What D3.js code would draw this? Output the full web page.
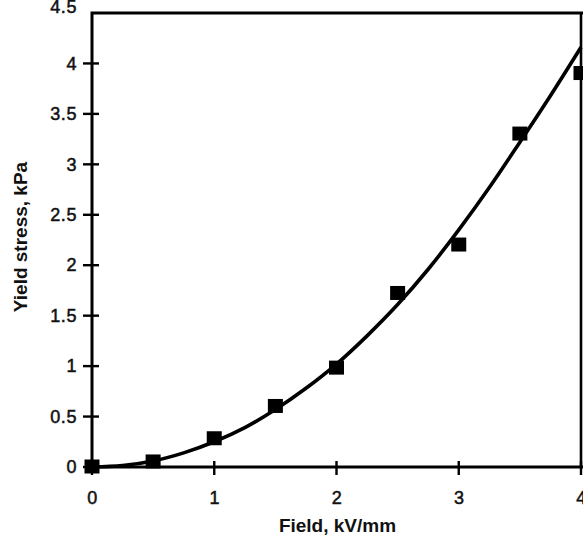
<!DOCTYPE html>
<html><head><meta charset="utf-8">
<script src="https://cdn.jsdelivr.net/npm/d3@7"></script>
<style>body{margin:0;background:#fff}svg{display:block}</style>
</head><body>
<svg id="c" width="583" height="539"></svg>
<script>
const fieldPts = [0, 0.5, 1, 1.5, 2, 2.5, 3, 3.5, 4];
const stressPts = [0, 0.05, 0.28, 0.6, 0.98, 1.72, 2.2, 3.3, 3.9];
const fitField = [0,0.25,0.5,0.75,1,1.25,1.5,1.75,2,2.25,2.5,2.75,3,3.25,3.5,3.75,4];
const fitStress = [0,0.015,0.06,0.14,0.25,0.39,0.57,0.78,1.02,1.3,1.61,1.96,2.35,2.77,3.22,3.68,4.16];
const xTicks = [0,1,2,3,4];
const yTicks = [0,0.5,1,1.5,2,2.5,3,3.5,4,4.5];

const svg = d3.select("#c");
const L = 92, R = 581, T = 13, B = 467;
const x = d3.scaleLinear().domain([0,4]).range([L,R]);
const y = d3.scaleLinear().domain([0,4.5]).range([B,T]);

// frame
svg.append("rect").attr("x",L).attr("y",T).attr("width",R-L+4).attr("height",B-T)
  .attr("fill","none").attr("stroke","#000").attr("stroke-width",3);
svg.append("line").attr("x1",R).attr("x2",R).attr("y1",T).attr("y2",B)
  .attr("stroke","#000").attr("stroke-width",2.6);

// axes
const yAxis = d3.axisLeft(y).tickValues(yTicks).tickFormat(d3.format("~g")).tickSize(0).tickPadding(15);
const gy = svg.append("g").attr("transform",`translate(${L},0)`).call(yAxis);
const xAxis = d3.axisBottom(x).tickValues(xTicks).tickFormat(d3.format("~g")).tickSize(0).tickPadding(24);
const gx = svg.append("g").attr("transform",`translate(0,${B})`).call(xAxis);
[gx, gy].forEach(g=>{
  g.select(".domain").remove();
  g.selectAll("text").attr("font-family","Liberation Sans, Arial, sans-serif")
   .attr("font-size",18).attr("fill","#111").attr("stroke","#111").attr("stroke-width",0.5)
   .style("letter-spacing","0.6px");
});
gy.selectAll(".tick").filter(d=>d===4.5).select("text").attr("dy","-0.05em");

// crossing ticks
svg.append("g").selectAll("line").data(yTicks.filter(d=>d<4.5)).join("line")
  .attr("x1",L-9).attr("x2",L+7).attr("y1",d=>y(d)).attr("y2",d=>y(d))
  .attr("stroke","#000").attr("stroke-width",2.4);
svg.append("g").selectAll("line").data(xTicks).join("line")
  .attr("x1",d=>x(d)).attr("x2",d=>x(d)).attr("y1",B-6).attr("y2",B+8)
  .attr("stroke","#000").attr("stroke-width",2.4);

// fit curve
const fit = fitField.map((f,i)=>[f, fitStress[i]]);
svg.append("path").datum(fit)
  .attr("d", d3.line().x(d=>x(d[0])).y(d=>y(d[1])).curve(d3.curveCatmullRom))
  .attr("fill","none").attr("stroke","#000").attr("stroke-width",3.6);

// markers
const s = 15;
svg.append("g").selectAll("rect").data(fieldPts.map((f,i)=>[f,stressPts[i]])).join("rect")
  .attr("x",d=>x(d[0])-s/2).attr("y",d=>y(d[1])-s/2).attr("width",s).attr("height",s-1)
  .attr("fill","#000");

// titles
svg.append("text").attr("x",(L+R)/2+1).attr("y",527).attr("text-anchor","middle")
  .attr("dominant-baseline","middle")
  .attr("font-family","Liberation Sans, Arial, sans-serif").attr("font-weight","bold")
  .attr("font-size",19).attr("fill","#111").text("Field, kV/mm");
svg.append("text").attr("transform","translate(22,237) rotate(-90)").attr("text-anchor","middle")
  .attr("dominant-baseline","middle")
  .attr("font-family","Liberation Sans, Arial, sans-serif").attr("font-weight","bold")
  .attr("font-size",19).attr("fill","#111").text("Yield stress, kPa");
</script>
</body></html>
